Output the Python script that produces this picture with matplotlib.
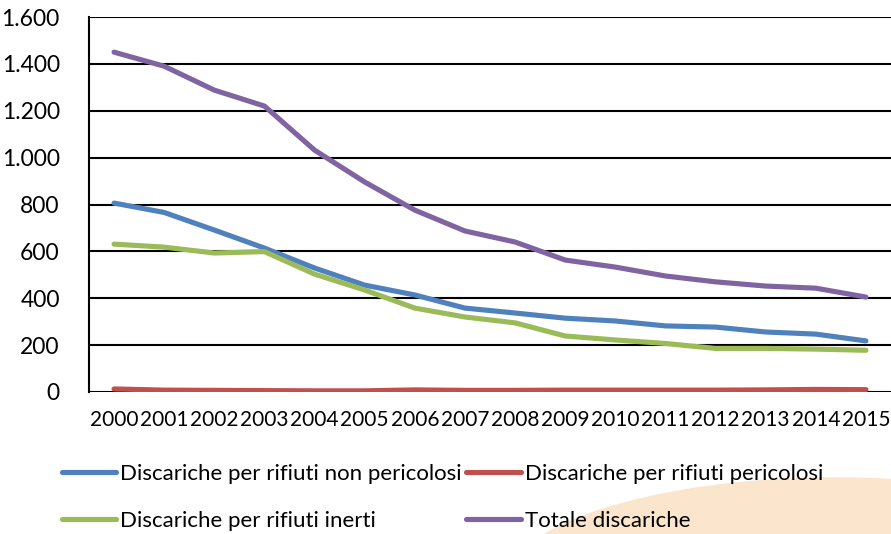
import matplotlib.pyplot as plt
from matplotlib.patches import Ellipse
from matplotlib.ticker import FuncFormatter

# data (numero discariche)
anni = list(range(2000, 2016))
non_pericolosi = [806, 766, 691, 614, 529, 456, 414, 358, 337, 315, 303, 282, 277, 256, 247, 218]
pericolosi = [13, 8, 7, 6, 5, 5, 9, 7, 7, 8, 8, 8, 8, 9, 11, 10]
inerti = [631, 618, 593, 599, 503, 435, 358, 320, 295, 239, 222, 207, 186, 186, 183, 178]
totale = [1450, 1390, 1288, 1220, 1032, 896, 776, 687, 640, 563, 533, 495, 470, 452, 443, 405]

labels = ['Discariche per rifiuti non pericolosi', 'Discariche per rifiuti pericolosi',
          'Discariche per rifiuti inerti', 'Totale discariche']
colors = ['#4F81BD', '#C0504D', '#9BBB59', '#8064A2']

plt.rcParams['font.family'] = ['Lato', 'DejaVu Sans']
fs_leg = 16

fig = plt.figure(figsize=(8.91, 5.34), dpi=100)

# faint peach watermark bottom right
wm = Ellipse((835 / 891, 1 - 590 / 534), 2 * 335 / 891, 2 * 112 / 534,
             transform=fig.transFigure, color='#FBE6CD', zorder=0)
fig.patches.append(wm)

ax = fig.add_axes([89 / 891, 1 - 392 / 534, 1 - 89 / 891, (392 - 17) / 534])
ax.patch.set_alpha(0)

series = [non_pericolosi, pericolosi, inerti, totale]
lines = []
for s, c, lab in zip(series, colors, labels):
    ln, = ax.plot(anni, s, color=c, lw=3.7, solid_capstyle='round', label=lab, zorder=3)
    lines.append(ln)

ax.set_xlim(1999.5, 2015.5)
ax.set_ylim(0, 1600)
ax.set_yticks(range(0, 1601, 200))
ax.yaxis.set_major_formatter(FuncFormatter(lambda v, p: f'{int(v):,}'.replace(',', '.')))
ax.set_xticks(anni)
ax.set_xticklabels([str(a) for a in anni])
ax.grid(axis='y', color='black', lw=1.5, zorder=1)
ax.set_axisbelow(True)
for side in ['top', 'right', 'bottom']:
    ax.spines[side].set_visible(False)
ax.spines['left'].set_linewidth(1.5)
ax.tick_params(axis='both', length=0)
ax.tick_params(axis='y', pad=21, labelsize=16.5)
ax.tick_params(axis='x', pad=13, labelsize=15)

# legend row-wise: blue, red / green, purple
order = [0, 2, 1, 3]
fig.legend([lines[i] for i in order], [labels[i] for i in order], ncol=2,
           loc='upper left', bbox_to_anchor=(62 / 891, 1 - 464 / 534),
           frameon=False, fontsize=fs_leg, handlelength=2.45, handletextpad=0.18,
           columnspacing=0.18, labelspacing=1.2, borderaxespad=0, borderpad=0)

fig.savefig('out.png', dpi=100)
